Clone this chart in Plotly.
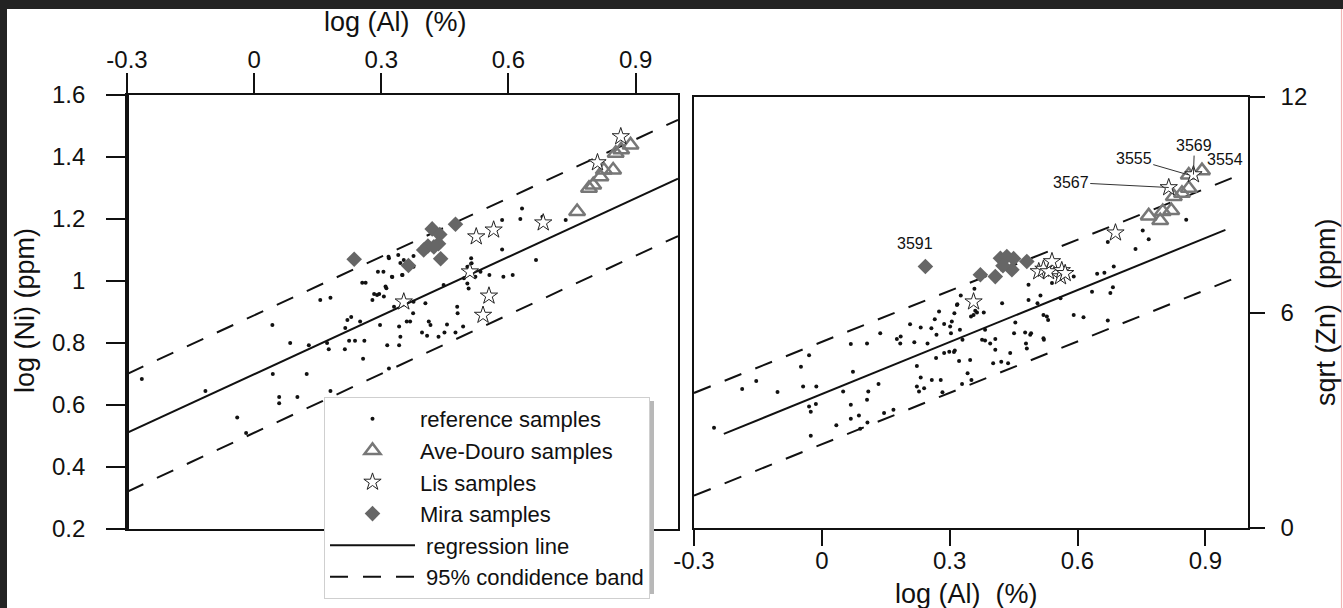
import plotly.graph_objects as go

W, H = 1343, 608
FONT = "Liberation Sans, Arial, sans-serif"
INK = "#111111"

# ---------------- data : left panel  log(Ni) vs log(Al) ----------------
ref_left_x = [-0.265, -0.115, -0.04, -0.019, 0.043, 0.044, 0.059, 0.059, 0.085, 0.102,
              0.124, 0.129, 0.156, 0.18, 0.172, 0.176, 0.18, 0.215, 0.22, 0.229,
              0.224, 0.214, 0.238, 0.25, 0.26, 0.257, 0.255, 0.263, 0.279, 0.283,
              0.295, 0.306, 0.312, 0.297, 0.314, 0.292, 0.305, 0.318, 0.326, 0.34,
              0.345, 0.35, 0.342, 0.345, 0.342, 0.33, 0.318, 0.632, 0.628, 0.68,
              0.735, 0.585, 0.585, 0.665, 0.61, 0.588, 0.555, 0.534, 0.522, 0.512,
              0.513, 0.503, 0.495, 0.506, 0.503, 0.404, 0.376, 0.375, 0.36, 0.368,
              0.412, 0.416, 0.396, 0.435, 0.449, 0.475, 0.493, 0.479, 0.48, 0.29,
              0.31, 0.325, 0.349, 0.317, 0.353, 0.376, 0.376, 0.447, 0.408, 0.455]
ref_left_y = [0.684, 0.645, 0.56, 0.51, 0.858, 0.70, 0.626, 0.606, 0.80, 0.626,
              0.70, 0.793, 0.939, 0.946, 0.80, 0.78, 0.645, 0.848, 0.874, 0.884,
              0.807, 0.78, 0.807, 0.869, 0.807, 0.749, 0.994, 0.994, 0.939, 0.958,
              0.958, 0.95, 0.977, 0.858, 0.793, 1.03, 1.03, 1.073, 1.013, 1.084,
              1.058, 1.019, 0.853, 0.82, 0.793, 0.917, 0.718, 1.234, 1.20, 1.207,
              1.197, 1.197, 1.102, 1.068, 1.019, 1.014, 1.019, 1.03, 1.014, 1.073,
              1.057, 1.046, 1.009, 0.976, 0.992, 0.928, 0.933, 0.896, 0.869, 0.869,
              0.869, 0.858, 0.834, 0.82, 0.834, 0.834, 0.853, 0.917, 0.896, 0.955,
              0.982, 1.014, 1.019, 1.078, 1.068, 1.081, 1.046, 0.987, 0.823, 0.86]

ave_left_x = [0.762, 0.79, 0.80, 0.817, 0.825, 0.847, 0.853, 0.866, 0.888]
ave_left_y = [1.224, 1.299, 1.31, 1.336, 1.358, 1.358, 1.412, 1.423, 1.439]

lis_left_x = [0.865, 0.81, 0.682, 0.565, 0.524, 0.554, 0.54, 0.509, 0.353]
lis_left_y = [1.466, 1.382, 1.188, 1.165, 1.143, 0.952, 0.89, 1.03, 0.933]

mira_left_x = [0.236, 0.475, 0.42, 0.438, 0.41, 0.40, 0.424, 0.44, 0.364, 0.435]
mira_left_y = [1.07, 1.183, 1.168, 1.15, 1.113, 1.10, 1.11, 1.072, 1.05, 1.12]

reg_left_x = [-0.3, 1.0]
reg_left_y = [0.51, 1.33]
band_left_x = [-0.3, 1.0]
band_left_upper = [0.70, 1.52]
band_left_lower = [0.32, 1.145]

# ---------------- data : right panel  sqrt(Zn) vs log(Al) ----------------
ref_right_x = [-0.253, -0.187, -0.154, -0.104, -0.049, -0.03, -0.044, -0.013, -0.03, -0.014,
               -0.026, -0.026, 0.034, 0.05, 0.068, 0.073, 0.068, 0.068, 0.087, 0.09,
               0.107, 0.106, 0.109, 0.106, 0.133, 0.137, 0.146, 0.168, 0.176, 0.185,
               0.207, 0.217, 0.223, 0.232, 0.223, 0.228, 0.24, 0.232, 0.248, 0.257,
               0.265, 0.275, 0.268, 0.269, 0.279, 0.283, 0.287, 0.287, 0.299, 0.301,
               0.303, 0.311, 0.312, 0.318, 0.324, 0.322, 0.326, 0.329, 0.33, 0.35,
               0.351, 0.348, 0.317, 0.305, 0.356, 0.364, 0.38, 0.383, 0.376, 0.383,
               0.407, 0.395, 0.423, 0.454, 0.477, 0.489, 0.485, 0.485, 0.506, 0.513,
               0.52, 0.52, 0.531, 0.56, 0.591, 0.614, 0.634, 0.646, 0.663, 0.685,
               0.683, 0.677, 0.671, 0.671, 0.736, 0.753, 0.767, 0.855, 0.54, 0.56,
               0.591, 0.402, 0.407, 0.437, 0.442, 0.481, 0.479, 0.491, 0.521, 0.451,
               0.342, 0.421, 0.184, 0.31, 0.258, 0.528, 0.358, 0.36]
ref_right_y = [2.79, 3.87, 4.09, 3.79, 4.49, 4.81, 3.94, 3.94, 3.38, 3.45,
               3.24, 2.57, 2.86, 3.80, 5.12, 4.35, 3.43, 3.04, 3.13, 2.76,
               2.94, 3.57, 3.80, 5.14, 4.01, 5.42, 3.20, 3.29, 5.26, 5.33,
               5.67, 5.17, 4.51, 4.19, 3.94, 3.80, 3.89, 5.58, 5.14, 5.56,
               5.81, 6.03, 4.73, 5.38, 4.12, 3.78, 4.87, 5.68, 4.91, 5.61,
               5.42, 5.98, 4.94, 6.23, 5.52, 4.65, 6.47, 4.01, 5.24, 5.89,
               4.12, 4.68, 6.21, 5.75, 5.93, 6.0, 6.0, 5.52, 5.24, 5.22,
               5.26, 5.14, 6.26, 5.72, 5.44, 5.38, 6.77, 6.35, 6.26, 6.47,
               5.93, 5.28, 5.79, 6.40, 5.93, 5.87, 6.58, 7.08, 7.11, 7.28,
               6.70, 6.54, 5.78, 7.96, 7.77, 8.28, 8.04, 8.58, 6.82, 7.09,
               7.0, 4.59, 4.96, 4.59, 4.87, 5.0, 5.14, 5.42, 5.24, 5.42,
               4.31, 4.63, 5.14, 4.9, 4.12, 5.89, 6.66, 6.05]

ave_right_x = [0.767, 0.794, 0.80, 0.82, 0.826, 0.845, 0.861, 0.861, 0.892]
ave_right_y = [8.69, 8.56, 8.81, 8.84, 9.23, 9.32, 9.46, 9.83, 9.95]

lis_right_x = [0.356, 0.689, 0.814, 0.872, 0.509, 0.52, 0.532, 0.54, 0.56, 0.563, 0.571]
lis_right_y = [6.30, 8.22, 9.48, 9.84, 7.14, 7.21, 7.14, 7.42, 7.0, 7.17, 7.09]

mira_right_x = [0.243, 0.372, 0.407, 0.419, 0.434, 0.446, 0.425, 0.45, 0.481]
mira_right_y = [7.28, 7.05, 7.0, 7.51, 7.56, 7.19, 7.3, 7.5, 7.42]

reg_right_x = [-0.23, 0.947]
reg_right_y = [2.62, 8.30]
band_right_x = [-0.3, 0.97]
band_right_upper = [3.76, 9.78]
band_right_lower = [0.90, 6.96]

# labelled samples in the right panel
label_text = ["3591", "3567", "3555", "3569", "3554"]
label_x = [0.243, 0.814, 0.861, 0.872, 0.892]
label_y = [7.28, 9.48, 9.83, 9.84, 9.95]

# ticks
x_tickvals = [-0.3, 0, 0.3, 0.6, 0.9]
x_ticktext = ["-0.3", "0", "0.3", "0.6", "0.9"]
left_y_tickvals = [0.2, 0.4, 0.6, 0.8, 1.0, 1.2, 1.4, 1.6]
left_y_ticktext = ["0.2", "0.4", "0.6", "0.8", "1", "1.2", "1.4", "1.6"]
right_y_tickvals = [0, 6, 12]
right_y_ticktext = ["0", "6", "12"]

# ---------------- figure ----------------
fig = go.Figure()

ref_marker = dict(symbol="circle", size=4, color=INK, line=dict(width=0))
ave_marker = dict(symbol="triangle-up-open", size=14, color="#777777",
                  line=dict(width=2.5, color="#777777"))
lis_marker = dict(symbol="star", size=13, color="white", line=dict(width=1, color="#222222"))
mira_marker = dict(symbol="diamond", size=12, color="#666666", line=dict(width=0))
reg_line = dict(color=INK, width=2)
band_line = dict(color=INK, width=2, dash="18px,15px")


def band_xy(xs, up, lo):
    return list(xs) + [None] + list(xs), list(up) + [None] + list(lo)


for panel, (xa, ya) in enumerate([("x", "y"), ("x2", "y2")]):
    left = panel == 0
    if left:
        rx, ry = reg_left_x, reg_left_y
        bx, by = band_xy(band_left_x, band_left_upper, band_left_lower)
        pts = [(ref_left_x, ref_left_y), (ave_left_x, ave_left_y),
               (lis_left_x, lis_left_y), (mira_left_x, mira_left_y)]
    else:
        rx, ry = reg_right_x, reg_right_y
        bx, by = band_xy(band_right_x, band_right_upper, band_right_lower)
        pts = [(ref_right_x, ref_right_y), (ave_right_x, ave_right_y),
               (lis_right_x, lis_right_y), (mira_right_x, mira_right_y)]

    fig.add_trace(go.Scatter(x=rx, y=ry, mode="lines", line=reg_line, name=" regression line",
                             xaxis=xa, yaxis=ya, showlegend=left, legendrank=5, hoverinfo="skip"))
    fig.add_trace(go.Scatter(x=bx, y=by, mode="lines", line=band_line, connectgaps=False,
                             name=" 95% condidence band", xaxis=xa, yaxis=ya,
                             showlegend=left, legendrank=6, hoverinfo="skip"))
    fig.add_trace(go.Scatter(x=pts[0][0], y=pts[0][1], mode="markers", marker=ref_marker,
                             name="reference samples", xaxis=xa, yaxis=ya,
                             showlegend=left, legendrank=1))
    fig.add_trace(go.Scatter(x=pts[3][0], y=pts[3][1], mode="markers", marker=mira_marker,
                             name="Mira samples", xaxis=xa, yaxis=ya,
                             showlegend=left, legendrank=4))
    fig.add_trace(go.Scatter(x=pts[1][0], y=pts[1][1], mode="markers", marker=ave_marker,
                             name="Ave-Douro samples", xaxis=xa, yaxis=ya,
                             showlegend=left, legendrank=2))
    fig.add_trace(go.Scatter(x=pts[2][0], y=pts[2][1], mode="markers", marker=lis_marker,
                             name="Lis samples", xaxis=xa, yaxis=ya,
                             showlegend=left, legendrank=3))

axis_common = dict(showgrid=False, zeroline=False, showline=True, linecolor=INK,
                   linewidth=1.6, mirror=True, ticks="outside", tickcolor=INK,
                   tickwidth=1.6, tickfont=dict(family=FONT, size=24, color=INK),
                   fixedrange=True)

fig.update_layout(
    width=W, height=H,
    margin=dict(l=0, r=0, t=0, b=0, autoexpand=False),
    paper_bgcolor="white", plot_bgcolor="white",
    font=dict(family=FONT, color=INK),
    xaxis=dict(axis_common, domain=[127 / W, 678 / W], range=[-0.3, 1.0], side="top",
               anchor="y", tickvals=x_tickvals, ticktext=x_ticktext, ticklen=20,
               ticklabelstandoff=-4),
    yaxis=dict(axis_common, domain=[1 - 529 / H, 1 - 95 / H], range=[0.2, 1.6],
               anchor="x", tickvals=left_y_tickvals, ticktext=left_y_ticktext, ticklen=19,
               ticklabelstandoff=16),
    xaxis2=dict(axis_common, domain=[694 / W, 1248 / W], range=[-0.3, 1.0], side="bottom",
                anchor="y2", tickvals=x_tickvals, ticktext=x_ticktext, ticklen=16,
                ticklabelstandoff=-6),
    yaxis2=dict(axis_common, domain=[1 - 528 / H, 1 - 97 / H], range=[0, 12], side="right",
                anchor="x2", tickvals=right_y_tickvals, ticktext=right_y_ticktext, ticklen=15,
                ticklabelstandoff=11),
    legend=dict(x=324 / W, y=1 - 397 / H, xanchor="left", yanchor="top",
                bgcolor="white", bordercolor="#cfcfcf", borderwidth=1,
                font=dict(family=FONT, size=22, color=INK), itemwidth=85,
                tracegroupgap=0, traceorder="normal"),
    showlegend=True,
)

# axis titles
titles = [
    ("log (Al)  (%)", 395, 22, 0),
    ("log (Ni) (ppm)", 25, 311, -90),
    ("log (Al)  (%)", 966, 594, 0),
    ("sqrt (Zn)  (ppm)", 1326, 312, -90),
]
for txt, px, py, ang in titles:
    fig.add_annotation(text=txt, x=px / W, y=1 - py / H, xref="paper", yref="paper",
                       showarrow=False, textangle=ang, xanchor="center", yanchor="middle",
                       font=dict(family=FONT, size=27, color=INK))

# sample labels (pixel offsets from the labelled sample)
label_offsets = {"3591": (-10, -23, False), "3567": (-98, -5, True), "3555": (-55, -16, True),
                 "3569": (1, -29, True), "3554": (23, -11, False)}
for txt, lx, ly in zip(label_text, label_x, label_y):
    dx, dy, arrow = label_offsets[txt]
    if arrow:
        fig.add_annotation(text=txt, x=lx, y=ly, xref="x2", yref="y2", showarrow=True,
                           ax=dx, ay=dy, arrowhead=0, arrowwidth=1, arrowcolor="#333333",
                           font=dict(family=FONT, size=16, color=INK))
    else:
        fig.add_annotation(text=txt, x=lx, y=ly, xref="x2", yref="y2", showarrow=False,
                           xshift=dx, yshift=-dy, font=dict(family=FONT, size=16, color=INK))

# thick left axis of the left panel
fig.add_shape(type="line", xref="x", yref="y", x0=-0.3, x1=-0.3, y0=0.2, y1=1.6,
              line=dict(color=INK, width=4), layer="above")
# legend shadow
fig.add_shape(type="rect", xref="paper", yref="paper", x0=328 / W, x1=654 / W,
              y0=1 - 594 / H, y1=1 - 401 / H, fillcolor="#b8b8b8", line=dict(width=0),
              layer="above")
# dark scan border (top and left) and thin pink edge on the right
fig.add_shape(type="rect", xref="paper", yref="paper", x0=0, x1=1, y0=1 - 9 / H, y1=1,
              fillcolor="#232323", line=dict(width=0), layer="above")
fig.add_shape(type="rect", xref="paper", yref="paper", x0=0, x1=7 / W, y0=0, y1=1,
              fillcolor="#232323", line=dict(width=0), layer="above")
fig.add_shape(type="line", xref="paper", yref="paper", x0=1341.5 / W, x1=1341.5 / W,
              y0=0, y1=1 - 9 / H, line=dict(color="#f2b4b4", width=1.2), layer="above")

fig.write_html("out.html", config={"displayModeBar": False},
               post_script="document.body.style.margin='0px';")
